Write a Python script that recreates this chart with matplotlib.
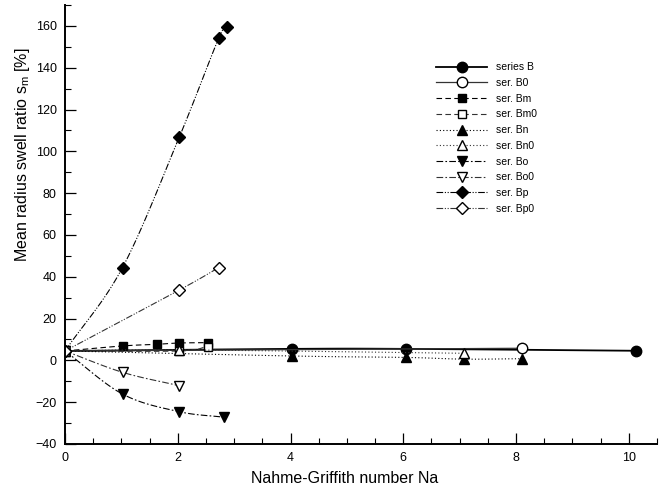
import numpy as np
import matplotlib
matplotlib.use("Agg")
import matplotlib.pyplot as plt
from matplotlib.ticker import MultipleLocator

plt.rcParams['font.family'] = ['Liberation Sans', 'DejaVu Sans']
plt.rcParams['mathtext.fontset'] = 'custom'
plt.rcParams['mathtext.rm'] = 'Liberation Sans'
plt.rcParams['mathtext.it'] = 'Liberation Sans'

# Data
B_x = [0, 4.03, 6.05, 10.12]
B_y = [4.5, 5.5, 5.5, 4.6]
B0_x = [0, 8.1]
B0_y = [4.5, 5.8]
Bm_x = [0, 1.02, 1.63, 2.02, 2.53]
Bm_y = [4.5, 6.9, 7.7, 8.3, 8.5]
Bm0_x = [0, 2.02, 2.53]
Bm0_y = [4.5, 4.5, 6.6]
Bn_x = [0, 4.03, 6.05, 7.07, 8.1]
Bn_y = [4.5, 2.1, 1.4, 0.6, 0.8]
Bn0_x = [0, 2.02, 7.07]
Bn0_y = [4.5, 5.0, 3.4]
Bo_x = [0, 1.02, 2.02, 2.82]
Bo_y = [4.5, -16.1, -24.5, -27.2]
Bo0_x = [0, 1.02, 2.02]
Bo0_y = [4.5, -5.7, -12.1]
Bp_x = [0, 1.02, 2.03, 2.73, 2.88]
Bp_y = [4.5, 44.4, 107.0, 154.3, 159.4]
Bp0_x = [0, 2.03, 2.73]
Bp0_y = [4.5, 33.7, 44.4]

labels = ['series B', 'ser. B0', 'ser. Bm', 'ser. Bm0', 'ser. Bn',
          'ser. Bn0', 'ser. Bo', 'ser. Bo0', 'ser. Bp', 'ser. Bp0']

def smooth(x, y, n=30):
    """Catmull-Rom curve through the given points (rendering only)."""
    x = np.asarray(x, float); y = np.asarray(y, float)
    if len(x) < 3:
        return x, y
    px = np.concatenate([[2*x[0]-x[1]], x, [2*x[-1]-x[-2]]])
    py = np.concatenate([[2*y[0]-y[1]], y, [2*y[-1]-y[-2]]])
    xs, ys = [], []
    t = np.linspace(0, 1, n)
    for i in range(1, len(px)-2):
        for arr, out in ((px, xs), (py, ys)):
            p0, p1, p2, p3 = arr[i-1], arr[i], arr[i+1], arr[i+2]
            out.append(0.5*((2*p1) + (-p0+p2)*t + (2*p0-5*p1+4*p2-p3)*t**2
                            + (-p0+3*p1-3*p2+p3)*t**3))
    return np.concatenate(xs), np.concatenate(ys)

fig = plt.figure(figsize=(6.72, 4.91), dpi=100)
ax = fig.add_axes([65/672, 47/491, 592/672, 439/491])

series = [
    (B_x, B_y, 'o', 'k', '-', 1.3, 7.5),
    (B0_x, B0_y, 'o', 'w', '-', 0.9, 7.5),
    (Bm_x, Bm_y, 's', 'k', (0, (5, 3)), 0.8, 5.5),
    (Bm0_x, Bm0_y, 's', 'w', (0, (5, 3)), 0.8, 5.5),
    (Bn_x, Bn_y, '^', 'k', (0, (1, 2)), 0.8, 6.5),
    (Bn0_x, Bn0_y, '^', 'w', (0, (1, 2)), 0.8, 6.5),
    (Bo_x, Bo_y, 'v', 'k', (0, (6, 2, 1.5, 2)), 0.8, 6.5),
    (Bo0_x, Bo0_y, 'v', 'w', (0, (6, 2, 1.5, 2)), 0.8, 6.5),
    (Bp_x, Bp_y, 'D', 'k', (0, (6, 1.5, 1, 1.5, 1, 1.5)), 0.8, 6.0),
    (Bp0_x, Bp0_y, 'D', 'w', (0, (6, 1.5, 1, 1.5, 1, 1.5)), 0.8, 6.0),
]

handles = []
for (x, y, m, fc, ls, lw, ms), lab in zip(series, labels):
    sx, sy = smooth(x, y)
    col = 'black' if fc == 'k' else '#333333'
    ax.plot(sx, sy, linestyle=ls, color=col, lw=lw)
    ax.plot(x, y, linestyle='none', marker=m, mfc=fc, mec='black',
            mew=1.0, ms=ms)
    h, = ax.plot([], [], linestyle=ls, color=col, lw=lw, marker=m,
                 mfc=fc, mec='black', mew=1.0, ms=ms, label=lab)
    handles.append(h)

ax.set_xlim(0, 10.5)
ax.set_ylim(-40, 170)
ax.xaxis.set_major_locator(MultipleLocator(2))
ax.xaxis.set_minor_locator(MultipleLocator(0.5))
ax.yaxis.set_major_locator(MultipleLocator(20))
ax.yaxis.set_minor_locator(MultipleLocator(10))
ax.tick_params(which='major', direction='in', length=8, width=0.9,
               labelsize=9, pad=6)
ax.tick_params(which='minor', direction='in', length=4, width=0.8)
ax.spines['top'].set_visible(False)
ax.spines['right'].set_visible(False)
ax.spines['left'].set_linewidth(1.4)
ax.spines['bottom'].set_linewidth(1.4)
for sp in ('left', 'bottom'):
    ax.spines[sp].set_clip_on(False)

ax.set_xlabel('Nahme-Griffith number Na', fontsize=11.5)
ax.set_ylabel(r'Mean radius swell ratio s$_\mathrm{m}$ [%]', fontsize=11.5)
ax.xaxis.set_label_coords(0.473, -0.062)
ax.yaxis.set_label_coords(-0.056, 0.658)

leg = ax.legend(handles=handles, loc='upper left',
                bbox_to_anchor=(0.62, 0.879), frameon=False, fontsize=7.5,
                handlelength=4.9, handletextpad=0.86, labelspacing=0.55,
                borderaxespad=0)

fig.savefig('out.png', dpi=100)
